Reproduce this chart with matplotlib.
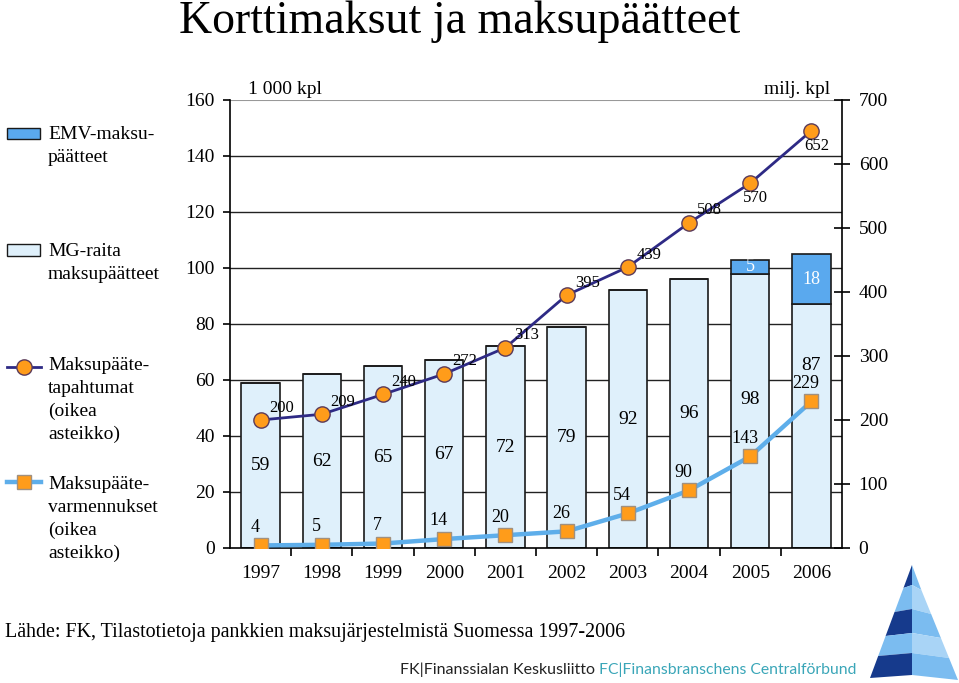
import numpy as np
import matplotlib.pyplot as plt
from matplotlib.patches import Rectangle, Polygon
from matplotlib.lines import Line2D

plt.rcParams['font.family'] = ['Liberation Serif', 'DejaVu Serif']

# data
years = ['1997', '1998', '1999', '2000', '2001', '2002', '2003', '2004', '2005', '2006']
mg_terminals = [59, 62, 65, 67, 72, 79, 92, 96, 98, 87]          # 1 000 kpl
emv_terminals = [0, 0, 0, 0, 0, 0, 0, 0, 5, 18]                   # 1 000 kpl
transactions = [200, 209, 240, 272, 313, 395, 439, 508, 570, 652]  # milj. kpl
authorisations = [4, 5, 7, 14, 20, 26, 54, 90, 143, 229]           # milj. kpl

c_mg = '#dff0fb'
c_emv = '#5aa9ee'
c_navy = '#2e2a85'
c_orange = '#ff9c1a'
c_lblue = '#5eaeea'

W, H = 959, 683
fig = plt.figure(figsize=(W / 100, H / 100), dpi=100)

ax = fig.add_axes([230 / W, 1 - 548 / H, 612 / W, 448 / H])
x = np.arange(len(years))

ax.set_axisbelow(True)
ax.bar(x, mg_terminals, width=0.63, color=c_mg, edgecolor='#1a1a1a', linewidth=1.2, zorder=2)
ax.bar(x, emv_terminals, width=0.63, bottom=mg_terminals, color=c_emv, edgecolor='#1a1a1a',
       linewidth=1.2, zorder=2)
ax.set_xlim(-0.5, len(years) - 0.5)
ax.set_ylim(0, 160)
ax.set_yticks(np.arange(0, 161, 20))
for gy in range(20, 160, 20):
    ax.axhline(gy, color='#222222', linewidth=1.0, zorder=1)
ax.axhline(160, color='#999999', linewidth=1.5, zorder=1)

ax.spines['top'].set_visible(False)
ax.spines['right'].set_visible(False)
ax.spines['left'].set_linewidth(1.2)
ax.spines['bottom'].set_linewidth(1.2)
ax.set_xticks(x)
ax.set_xticklabels(years, fontsize=14)
ax.tick_params(axis='x', length=0, pad=12)
ax.set_xticks(np.arange(0.5, len(years) - 0.5, 1), minor=True)
ax.tick_params(axis='x', which='minor', length=6, width=1.2, direction='out')
ax.tick_params(axis='y', labelsize=14, length=5, width=1.2, pad=6)

# bar labels
for i, v in enumerate(mg_terminals):
    ypos = v / 2
    if i == len(years) - 1:
        ypos = v * 0.75
    elif i == len(years) - 2:
        ypos = v * 0.54
    ax.text(i, ypos, str(v), ha='center', va='center', fontsize=14, zorder=3)
for i, v in enumerate(emv_terminals):
    if v > 0:
        ax.text(i, mg_terminals[i] + v / 2, str(v), ha='center', va='center',
                fontsize=13, color='white', zorder=3)

ax2 = ax.twinx()
ax2.set_ylim(0, 700)
ax2.set_yticks(np.arange(0, 701, 100))
for s in ['top', 'left', 'bottom']:
    ax2.spines[s].set_visible(False)
ax2.spines['right'].set_linewidth(1.2)
ax2.tick_params(axis='y', labelsize=14, direction='inout', length=12, width=1.2, pad=6)

ax2.plot(x, transactions, color=c_navy, linewidth=2, marker='o', markersize=11,
         markerfacecolor=c_orange, markeredgecolor='#5a3a5a', markeredgewidth=1, zorder=4)
ax2.plot(x, authorisations, color=c_lblue, linewidth=3.2, marker='s', markersize=10.5,
         markerfacecolor=c_orange, markeredgecolor='#a09080', markeredgewidth=1, zorder=4)

for i, v in enumerate(transactions):
    off = (15, 9) if i < 8 else (4, -11)
    ax2.annotate(str(v), (i, v), xytext=off, textcoords='offset points',
                 ha='center', va='center', fontsize=12, zorder=5)
for i, v in enumerate(authorisations):
    ax2.annotate(str(v), (i, v), xytext=(-4, 13), textcoords='offset points',
                 ha='center', va='center', fontsize=13, zorder=5)

# overlay for titles, legend, footer (pixel coords)
ov = fig.add_axes([0, 0, 1, 1], zorder=-1)
ov.set_xlim(0, W)
ov.set_ylim(H, 0)
ov.axis('off')

ov.text(460, 33, 'Korttimaksut ja maksupäätteet', fontsize=33, ha='center', va='baseline')
ov.text(248, 94, '1 000 kpl', fontsize=14, ha='left', va='baseline')
ov.text(830, 94, 'milj. kpl', fontsize=14, ha='right', va='baseline')

# legend
ov.add_patch(Rectangle((7, 128), 33, 11, facecolor=c_emv, edgecolor='#1a1a1a', linewidth=1))
ov.text(48, 146, 'EMV-maksu-\npäätteet', fontsize=14, ha='left', va='center', linespacing=1.4)
ov.add_patch(Rectangle((7, 244), 33, 12, facecolor=c_mg, edgecolor='#1a1a1a', linewidth=1))
ov.text(48, 263, 'MG-raita\nmaksupäätteet', fontsize=14, ha='left', va='center', linespacing=1.45)
ov.add_line(Line2D([7, 41], [367, 367], color=c_navy, linewidth=2, zorder=2))
ov.plot([24], [367], marker='o', markersize=11, markerfacecolor=c_orange,
        markeredgecolor='#5a3a5a', zorder=3)
ov.text(48, 400, 'Maksupääte-\ntapahtumat\n(oikea\nasteikko)', fontsize=14, ha='left',
        va='center', linespacing=1.43)
ov.add_line(Line2D([7, 41], [482, 482], color=c_lblue, linewidth=3.2, zorder=2))
ov.plot([24], [482], marker='s', markersize=10.5, markerfacecolor=c_orange,
        markeredgecolor='#a09080', zorder=3)
ov.text(48, 519, 'Maksupääte-\nvarmennukset\n(oikea\nasteikko)', fontsize=14, ha='left',
        va='center', linespacing=1.45)

# footer
ov.text(5, 632, 'Lähde: FK, Tilastotietoja pankkien maksujärjestelmistä Suomessa 1997-2006',
        fontsize=14.4, ha='left', va='center')
ov.text(400, 670, 'FK|Finanssialan Keskusliitto', fontsize=11.5, ha='left', va='center',
        family='Lato', color='#222222')
ov.text(599, 670, 'FC|Finansbranschens Centralförbund', fontsize=11.3, ha='left', va='center',
        family='Lato', color='#3aa6b8')

# logo
dark, light = '#163a8c', '#7bbcf0'
ys = [565, 588, 612, 636, 656, 678]
def edge_x(y, side):
    t = (y - 565) / (678 - 565)
    return 912 + t * ((870 if side == 'l' else 958) - 912)
for k in range(5):
    y0, y1 = ys[k], ys[k + 1]
    col_l = dark if k % 2 == 0 else light
    col_r = light if k % 2 == 0 else '#a9d4f6'
    ov.add_patch(Polygon([(edge_x(y0, 'l'), y0), (912, y0 - 3 if k else y0), (912, y1 - 3),
                          (edge_x(y1, 'l'), y1)], closed=True, facecolor=col_l, edgecolor='none'))
    ov.add_patch(Polygon([(912, y0 - 3 if k else y0), (edge_x(y0, 'r'), y0 + 2 if k else y0),
                          (edge_x(y1, 'r'), y1 + 2), (912, y1 - 3)], closed=True,
                         facecolor=col_r, edgecolor='none'))

fig.savefig('out.png', dpi=100)
